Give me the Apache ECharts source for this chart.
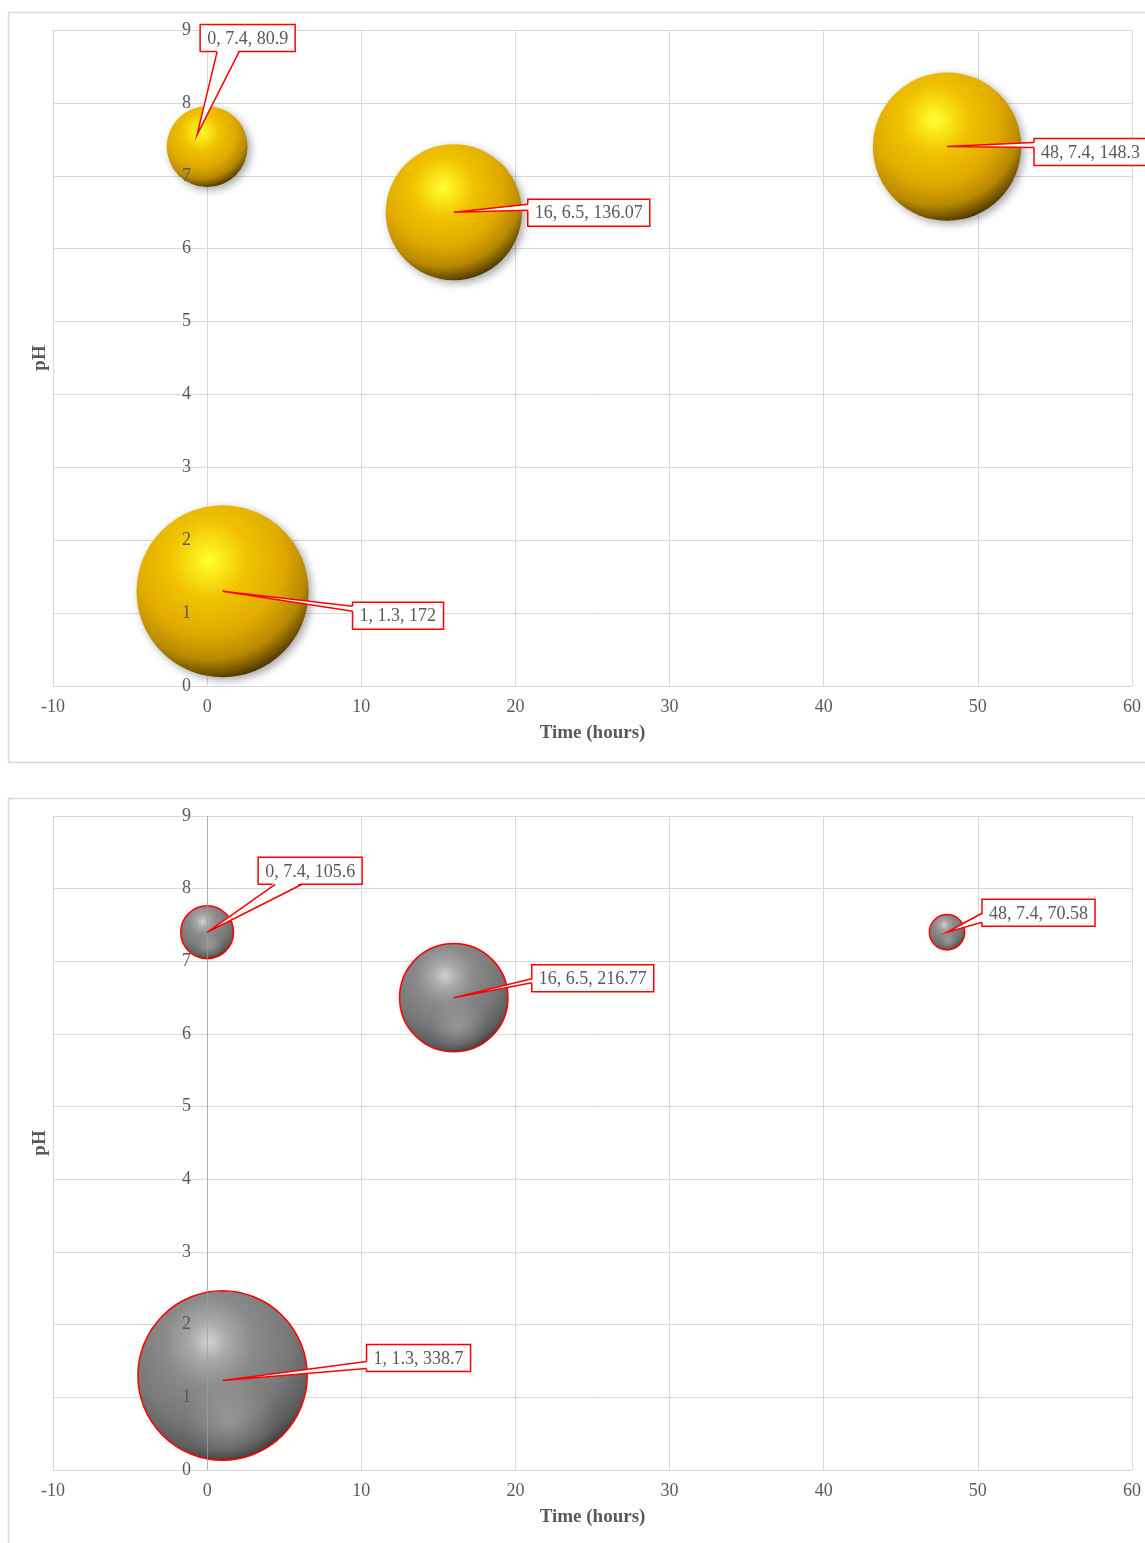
<!DOCTYPE html>
<html>
<head>
<meta charset="utf-8">
<title>pH vs time</title>
<script src="https://cdn.jsdelivr.net/npm/echarts@6/dist/echarts.min.js"></script>
<style>
  html, body { margin: 0; padding: 0; background: #fff; }
  #chart { width: 1145px; height: 1543px; }
</style>
</head>
<body>
<div id="chart"></div>
<script>
// data: [time, pH, bubble value]
const timeHours = [0, 16, 48, 1];
const phTop = [7.4, 6.5, 7.4, 1.3];
const sizeTop = [80.9, 136.07, 148.3, 172];
const phBottom = [7.4, 6.5, 7.4, 1.3];
const sizeBottom = [105.6, 216.77, 70.58, 338.7];

const xMin = -10, xMax = 60, xStep = 10;
const yMin = 0, yMax = 9, yStep = 1;

const TEXT = '#595959';
const GRID_LINE = '#d9d9d9';
const FONT = '"Liberation Serif", "Times New Roman", serif';
const LABEL_FONT = '18px "Liberation Serif"';
const BOX_H = 27;
const PAD = 7;

// callout placement (px, relative to the bubble centre)
const calloutsTop = [
  { bx: -7, by: -122, side: 'bottom', a0: 17, a1: 39, tx: -10, ty: -12 },
  { bx: 74, by: -13, side: 'left', a0: 5, a1: 11 },
  { bx: 87, by: -8, side: 'left', a0: 4, a1: 9 },
  { bx: 130, by: 11, side: 'left', a0: 4, a1: 9 }
];
const calloutsBottom = [
  { bx: 51, by: -75, side: 'bottom', a0: 17, a1: 44 },
  { bx: 78, by: -33, side: 'left', a0: 14, a1: 18 },
  { bx: 35, by: -33, side: 'left', a0: 14, a1: 23 },
  { bx: 144, by: -31, side: 'left', a0: 17, a1: 24, ty: 5 }
];

const zip = (xs, ys, ss) => xs.map((x, i) => [x, ys[i], ss[i]]);
const topData = zip(timeHours, phTop, sizeTop);
const bottomData = zip(timeHours, phBottom, sizeBottom);

const measureCtx = document.createElement('canvas').getContext('2d');
function measure(t) {
  measureCtx.font = LABEL_FONT;
  return measureCtx.measureText(t).width;
}

function calloutRenderer(layouts) {
  return function (params, api) {
    const x = api.value(0), y = api.value(1), s = api.value(2);
    const c = api.coord([x, y]);
    const lay = layouts[params.dataIndex];
    const text = x + ', ' + y + ', ' + s;
    const w = Math.round(measure(text)) + 2 * PAD;
    const L = c[0] + lay.bx, T = c[1] + lay.by;
    const tip = [c[0] + (lay.tx || 0), c[1] + (lay.ty || 0)];
    let b0, b1, i0, i1;
    if (lay.side === 'left') {
      b0 = [L, T + lay.a0]; b1 = [L, T + lay.a1];
      i0 = [L + 2, T + lay.a0]; i1 = [L + 2, T + lay.a1];
    } else {
      b0 = [L + lay.a0, T + BOX_H]; b1 = [L + lay.a1, T + BOX_H];
      i0 = [L + lay.a0, T + BOX_H - 2]; i1 = [L + lay.a1, T + BOX_H - 2];
    }
    return {
      type: 'group',
      children: [
        { type: 'rect', shape: { x: L, y: T, width: w, height: BOX_H },
          style: { fill: '#fff', stroke: '#ff0000', lineWidth: 1.5 } },
        { type: 'polygon', shape: { points: [tip, i0, i1] }, style: { fill: '#fff' } },
        { type: 'polyline', shape: { points: [b0, tip, b1] },
          style: { fill: 'none', stroke: '#ff0000', lineWidth: 1.5 } },
        { type: 'text', x: L + PAD, y: T + BOX_H / 2 + 1,
          style: { text: text, fill: TEXT, font: LABEL_FONT, verticalAlign: 'middle' } }
      ]
    };
  };
}

const goldFill = new echarts.graphic.RadialGradient(0.42, 0.32, 0.72, [
  { offset: 0, color: '#ffff38' },
  { offset: 0.12, color: '#fbe81a' },
  { offset: 0.32, color: '#efc200' },
  { offset: 0.6, color: '#e0aa00' },
  { offset: 0.8, color: '#b88900' },
  { offset: 0.92, color: '#6e5000' },
  { offset: 1, color: '#2e2000' }
]);
const greyFill = new echarts.graphic.RadialGradient(0.42, 0.3, 0.75, [
  { offset: 0, color: '#d2d2d2' },
  { offset: 0.15, color: '#a9a9a9' },
  { offset: 0.35, color: '#8a8a8a' },
  { offset: 0.65, color: '#777777' },
  { offset: 0.85, color: '#5c5c5c' },
  { offset: 1, color: '#2a2a2a' }
]);
// soft lower reflection seen on the grey spheres
const greyGlow = new echarts.graphic.RadialGradient(0.55, 0.78, 0.28, [
  { offset: 0, color: 'rgba(255,255,255,0.22)' },
  { offset: 1, color: 'rgba(255,255,255,0)' }
]);

function xAxisFor(gridIndex) {
  return {
    gridIndex: gridIndex, type: 'value', min: xMin, max: xMax, interval: xStep,
    name: 'Time (hours)', nameLocation: 'middle', nameGap: 38, nameMoveOverlap: false,
    nameTextStyle: { color: TEXT, fontFamily: FONT, fontSize: 19, fontWeight: 'bold' },
    axisLine: { onZero: false, lineStyle: { color: GRID_LINE } },
    axisTick: { show: false },
    axisLabel: { color: TEXT, fontFamily: FONT, fontSize: 18, margin: 12 },
    splitLine: { lineStyle: { color: GRID_LINE } }
  };
}
// horizontal gridlines, kept behind the bubbles
function yGridAxisFor(gridIndex) {
  return {
    gridIndex: gridIndex, type: 'value', position: 'left',
    min: yMin, max: yMax, interval: yStep,
    axisLine: { show: false, onZero: false },
    axisTick: { show: false },
    axisLabel: { show: false },
    splitLine: { lineStyle: { color: GRID_LINE } }
  };
}
// tick labels beside the x = 0 line, drawn over the bubbles as in the original
function yLabelAxisFor(gridIndex) {
  return {
    gridIndex: gridIndex, type: 'value', position: 'left', offset: 0,
    min: yMin, max: yMax, interval: yStep, z: 10,
    name: 'pH', nameLocation: 'middle', nameGap: 3, nameMoveOverlap: false,
    nameTextStyle: { color: TEXT, fontFamily: FONT, fontSize: 19, fontWeight: 'bold' },
    axisLine: { show: false, onZero: false },
    axisTick: { show: false },
    axisLabel: { color: TEXT, fontFamily: FONT, fontSize: 18, margin: -138 },
    splitLine: { show: false }
  };
}

const chart = echarts.init(document.getElementById('chart'));
chart.setOption({
  animation: false,
  backgroundColor: '#fff',
  graphic: [
    { type: 'rect', shape: { x: 8.5, y: 12.5, width: 1150, height: 750 },
      style: { fill: 'none', stroke: GRID_LINE, lineWidth: 1.5 }, z: -10 },
    { type: 'rect', shape: { x: 8.5, y: 798.5, width: 1150, height: 770 },
      style: { fill: 'none', stroke: GRID_LINE, lineWidth: 1.5 }, z: -10 }
  ],
  grid: [
    { left: 53, top: 30, width: 1079, height: 656, containLabel: false, outerBoundsMode: 'none' },
    { left: 53, top: 816, width: 1079, height: 654, containLabel: false, outerBoundsMode: 'none' }
  ],
  xAxis: [xAxisFor(0), xAxisFor(1)],
  yAxis: [yGridAxisFor(0), yLabelAxisFor(0), yGridAxisFor(1), yLabelAxisFor(1)],
  series: [
    {
      type: 'scatter', xAxisIndex: 0, yAxisIndex: 0, data: topData,
      symbolSize: v => v[2],
      itemStyle: { color: goldFill, opacity: 1, shadowBlur: 8, shadowOffsetX: 3, shadowOffsetY: 3,
        shadowColor: 'rgba(0,0,0,0.35)' },
      emphasis: { disabled: true }
    },
    {
      type: 'scatter', xAxisIndex: 1, yAxisIndex: 2, data: bottomData,
      symbolSize: v => v[2] * 0.5,
      itemStyle: { color: greyFill, opacity: 1, borderColor: '#ff0000', borderWidth: 1.5 },
      emphasis: { disabled: true },
      // the vertical axis line at time 0 in the lower chart
      markLine: {
        silent: true, symbol: 'none', label: { show: false },
        lineStyle: { color: '#9e9e9e', type: 'solid', width: 1, opacity: 0.7 },
        data: [{ xAxis: 0 }]
      }
    },
    {
      type: 'scatter', xAxisIndex: 1, yAxisIndex: 2, data: bottomData, z: 3, silent: true,
      symbolSize: v => v[2] * 0.5 - 3,
      itemStyle: { color: greyGlow, opacity: 1 },
      emphasis: { disabled: true }
    },
    {
      type: 'custom', coordinateSystem: 'cartesian2d', xAxisIndex: 0, yAxisIndex: 0,
      data: topData, encode: { x: 0, y: 1 }, z: 6, silent: true,
      renderItem: calloutRenderer(calloutsTop)
    },
    {
      type: 'custom', coordinateSystem: 'cartesian2d', xAxisIndex: 1, yAxisIndex: 2,
      data: bottomData, encode: { x: 0, y: 1 }, z: 6, silent: true,
      renderItem: calloutRenderer(calloutsBottom)
    }
  ]
});
</script>
</body>
</html>
